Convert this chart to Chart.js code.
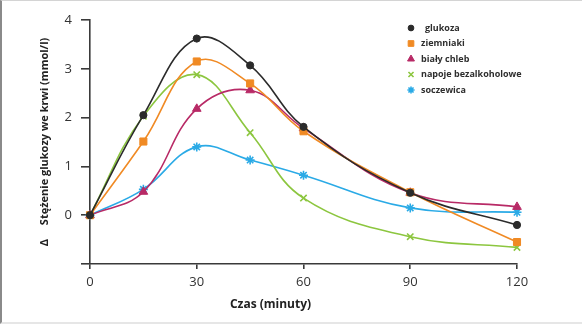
<!DOCTYPE html>
<html><head><meta charset="utf-8">
<script src="https://cdn.jsdelivr.net/npm/chart.js@4/dist/chart.umd.min.js"></script>
<style>
html,body{margin:0;padding:0;background:#fff;}
#wrap{position:relative;width:582px;height:324px;}
#frame{position:absolute;left:0;top:0;width:582px;height:324px;box-sizing:border-box;border-left:2px solid #8a8a8a;border-top:1px solid #d4d4d4;border-bottom:2px solid #e6e6e6;pointer-events:none;}
canvas{display:block;}
</style></head><body>
<div id="wrap"><canvas id="c" width="582" height="324"></canvas><div id="frame"></div></div>
<script>
// ---- data ----
const minutes = [0, 15, 30, 45, 60, 90, 120];
const xTicks = [0, 30, 60, 90, 120];
const yTicks = [0, 1, 2, 3, 4];
const seriesNames = ['glukoza', 'ziemniaki', 'biały chleb', 'napoje bezalkoholowe', 'soczewica'];
const glukoza   = [0, 2.05, 3.62, 3.07, 1.81, 0.46, -0.20];
const ziemniaki = [0, 1.51, 3.15, 2.70, 1.72, 0.47, -0.55];
const bialyChleb = [0, 0.48, 2.18, 2.56, 1.78, 0.46, 0.17];
const napoje    = [0, 2.03, 2.88, 1.69, 0.35, -0.44, -0.66];
const soczewica = [0, 0.53, 1.40, 1.13, 0.82, 0.15, 0.06];
const xTitle = 'Czas (minuty)';
const yTitle = 'Stężenie glukozy we krwi (mmol/l)';

// ---- styles ----
const colors = ['#2b2b2b', '#f08a24', '#b82a66', '#8cc63f', '#2aaae6'];
const styles = ['circle', 'rect', 'triangle', 'crossRot', 'star'];
const radii = [3.6, 5, 5, 4.5, 4.5];
const values = [glukoza, ziemniaki, bialyChleb, napoje, soczewica];

const datasets = values.map((vals, i) => ({
  label: seriesNames[i],
  data: minutes.map((m, j) => ({x: m, y: vals[j]})),
  borderColor: colors[i],
  backgroundColor: colors[i],
  pointBackgroundColor: colors[i],
  pointBorderColor: colors[i],
  pointStyle: styles[i],
  pointRadius: radii[i],
  pointBorderWidth: (styles[i] === 'crossRot' || styles[i] === 'star') ? 1.6 : 1,
  borderWidth: 1.6,
  tension: 0.4,
  fill: false,
  clip: false
}));

const legendPlugin = {
  id: 'sideLegend',
  afterDraw(chart) {
    const ctx = chart.ctx;
    ctx.save();
    chart.data.datasets.forEach((ds, i) => {
      const y = 28 + i * 15.5;
      const x = 411;
      ctx.fillStyle = ds.pointBackgroundColor;
      ctx.strokeStyle = ds.pointBorderColor;
      ctx.lineWidth = ds.pointBorderWidth;
      Chart.helpers.drawPoint(ctx, {pointStyle: ds.pointStyle, radius: ds.pointRadius * 0.8, rotation: 0, borderWidth: ds.pointBorderWidth}, x, y);
      ctx.fillStyle = '#2e2e2e';
      ctx.font = 'bold 9px "Open Sans"';
      ctx.textBaseline = 'middle';
      ctx.textAlign = 'left';
      ctx.fillText(ds.label, i === 0 ? 425 : 421, y);
    });
    ctx.restore();
  }
};

const axisColor = '#3a3a3a';
new Chart(document.getElementById('c'), {
  type: 'line',
  data: {datasets},
  plugins: [legendPlugin],
  options: {
    responsive: false,
    animation: false,
    layout: {padding: {left: 0, right: 65, top: 20, bottom: 0}},
    plugins: {legend: {display: false}, tooltip: {enabled: false}},
    scales: {
      x: {
        type: 'linear', min: 0, max: 120,
        afterBuildTicks: (s) => { s.ticks = xTicks.map(v => ({value: v})); },
        afterFit: (s) => { s.height = 60; },
        border: {display: true, color: axisColor, width: 1.6},
        grid: {display: true, drawOnChartArea: false, drawTicks: true, tickLength: 5, color: axisColor, lineWidth: 1.6},
        ticks: {padding: 5, color: '#333', font: {family: '"Open Sans"', size: 13}, maxRotation: 0},
        title: {display: true, text: xTitle + '\u2003\u2003\u2003\u2003\u2003\u2002', color: '#222',
                font: {family: '"Open Sans"', size: 12, weight: 'bold'}, padding: {top: 0, bottom: 12}}
      },
      y: {
        type: 'linear', min: -1, max: 4,
        afterBuildTicks: (s) => { s.ticks = [-1].concat(yTicks).map(v => ({value: v})); },
        afterFit: (s) => { s.width = 90; },
        border: {display: true, color: axisColor, width: 1.6},
        grid: {display: true, drawOnChartArea: false, drawTicks: true, tickLength: 9, color: axisColor, lineWidth: 1.6},
        ticks: {padding: 9, color: '#333', font: {family: '"Open Sans"', size: 13},
                callback: (v) => (v < 0 ? '' : String(v))},
        title: {display: true, text: 'Δ\u2003 ' + yTitle, color: '#222',
                font: {family: '"Open Sans"', size: 11, weight: 'bold'}, padding: {top: 38, bottom: 0}}
      }
    }
  }
});
</script>
</body></html>
